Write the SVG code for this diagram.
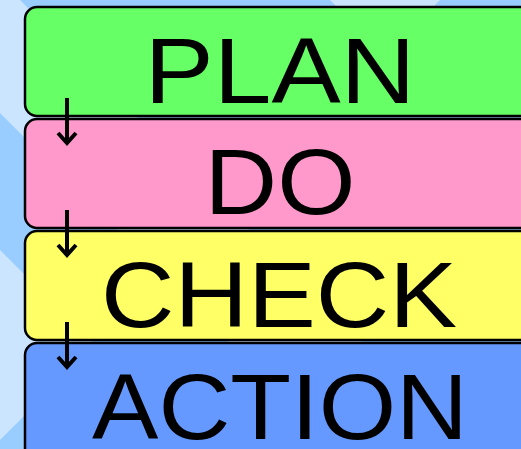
<svg xmlns="http://www.w3.org/2000/svg" width="521" height="449" viewBox="0 0 521 449">
  <style>
    .box { stroke: #000; stroke-width: 2.5; }
    .lbl { font-family: "Liberation Sans", Arial, sans-serif; font-size: 92px; fill: #000; text-anchor: middle; }
    .arrow { fill: none; stroke: #000; stroke-width: 4; stroke-linejoin: miter; }
    .light { fill: #cce5ff; }
  </style>
  <g id="background">
    <rect x="0" y="0" width="521" height="449" fill="#99ccff"/>
    <polygon class="light" points="0,0 20,0 560,540 560,673 0,113"/>
    <polygon class="light" points="0,250 95,345 0,440"/>
    <polygon class="light" points="330,0 440,0 385,55"/>
  </g>
  <g id="plan">
    <rect class="box" x="25" y="7" width="520" height="109" rx="12" fill="#66ff66"/>
    <text class="lbl" x="280" y="102.5" textLength="271" lengthAdjust="spacingAndGlyphs">PLAN</text>
  </g>
  <g id="do">
    <rect class="box" x="25" y="119" width="520" height="109" rx="12" fill="#ff99cc"/>
    <text class="lbl" x="280" y="213.5" textLength="151" lengthAdjust="spacingAndGlyphs">DO</text>
  </g>
  <g id="check">
    <rect class="box" x="25" y="231" width="520" height="109" rx="12" fill="#ffff66"/>
    <text class="lbl" x="279" y="326.5" textLength="356" lengthAdjust="spacingAndGlyphs">CHECK</text>
  </g>
  <g id="action">
    <rect class="box" x="25" y="343" width="520" height="120" rx="12" fill="#6699ff"/>
    <text class="lbl" x="280" y="438.5" textLength="376" lengthAdjust="spacingAndGlyphs">ACTION</text>
  </g>
  <g id="connectors">
    <path class="arrow" d="M67 98 V143 M58 133 L67 143 L76 133"/>
    <path class="arrow" d="M67 210 V255 M58 245 L67 255 L76 245"/>
    <path class="arrow" d="M67 322 V367 M58 357 L67 367 L76 357"/>
  </g>
</svg>
